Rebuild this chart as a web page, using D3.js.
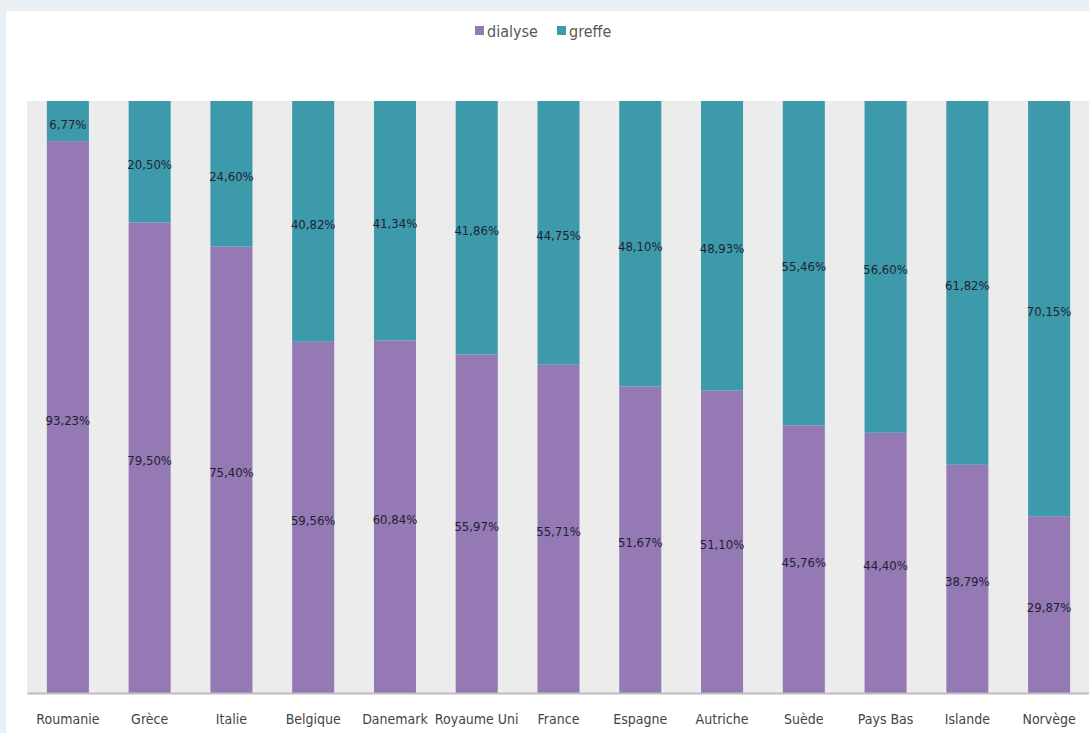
<!DOCTYPE html>
<html>
<head>
<meta charset="utf-8">
<script src="https://cdn.jsdelivr.net/npm/d3@7"></script>
<style>
  html, body { margin: 0; padding: 0; background: #e8eff5; }
  svg { display: block; }
</style>
</head>
<body>
<svg id="chart" width="1089" height="733"></svg>
<script>
const categories = ["Roumanie", "Grèce", "Italie", "Belgique", "Danemark", "Royaume Uni", "France", "Espagne", "Autriche", "Suède", "Pays Bas", "Islande", "Norvège"];
const dialyse = [93.23, 79.50, 75.40, 59.56, 60.84, 55.97, 55.71, 51.67, 51.10, 45.76, 44.40, 38.79, 29.87];
const greffe  = [6.77, 20.50, 24.60, 40.82, 41.34, 41.86, 44.75, 48.10, 48.93, 55.46, 56.60, 61.82, 70.15];
const seriesNames = ["dialyse", "greffe"];
const colors = { dialyse: "#9479b4", greffe: "#3c9aab" };

(function () {
const rows = categories.map((c, i) => ({ cat: c, dialyse: dialyse[i], greffe: greffe[i] }));
const stacked = d3.stack().keys(seriesNames).offset(d3.stackOffsetExpand)(rows);

const svg = d3.select("#chart");
const font = "'Liberation Sans Narrow', 'DejaVu Sans Condensed', sans-serif";

// white panel
svg.append("rect").attr("x", 6).attr("y", 11).attr("width", 1089).attr("height", 733).attr("fill", "#ffffff");

const plotTop = 101, plotBottom = 693, plotLeft = 27, plotRight = 1090;
const x = d3.scaleBand().domain(categories).range([plotLeft, plotRight]).paddingInner(0.486).paddingOuter(0.243);
const y = d3.scaleLinear().domain([0, 1]).range([plotBottom, plotTop]);

// plot background
svg.append("rect").attr("x", plotLeft).attr("y", plotTop).attr("width", plotRight - plotLeft).attr("height", plotBottom - plotTop).attr("fill", "#ececec");

// bars
const g = svg.append("g");
stacked.forEach(s => {
  g.selectAll(null).data(s).join("rect")
    .attr("x", d => x(d.data.cat))
    .attr("width", x.bandwidth())
    .attr("y", d => y(d[1]))
    .attr("height", d => y(d[0]) - y(d[1]))
    .attr("fill", colors[s.key]);
});

// value labels
stacked.forEach(s => {
  g.selectAll(null).data(s).join("text")
    .attr("x", d => x(d.data.cat) + x.bandwidth() / 2)
    .attr("y", d => y((d[0] + d[1]) / 2) + 3)
    .attr("dy", "0.35em")
    .attr("text-anchor", "middle")
    .attr("font-family", font)
    .attr("font-size", 13)
    .attr("fill", "#221f33")
    .text(d => d.data[s.key].toFixed(2).replace(".", ",") + "%");
});

// x axis
const xAxis = d3.axisBottom(x).tickSize(0).tickPadding(21);
const ax = svg.append("g").attr("transform", `translate(0,${plotBottom})`).call(xAxis);
ax.select(".domain").attr("stroke", "#bdbdbd").attr("stroke-width", 2);
ax.selectAll("text").attr("font-family", font).attr("font-size", 14).attr("fill", "#444");

// legend
const legend = svg.append("g").attr("transform", "translate(475,31)");
const legendX = [0, 82];
seriesNames.forEach((n, i) => {
  const lg = legend.append("g").attr("transform", `translate(${legendX[i]},0)`);
  lg.append("rect").attr("x", 0).attr("y", -5).attr("width", 9).attr("height", 9).attr("fill", colors[n]);
  lg.append("text").attr("x", 12).attr("y", 0).attr("dy", "0.35em")
    .attr("font-family", font).attr("font-size", 16).attr("fill", "#5a5a5a").text(n);
});
})();
</script>
</body>
</html>
